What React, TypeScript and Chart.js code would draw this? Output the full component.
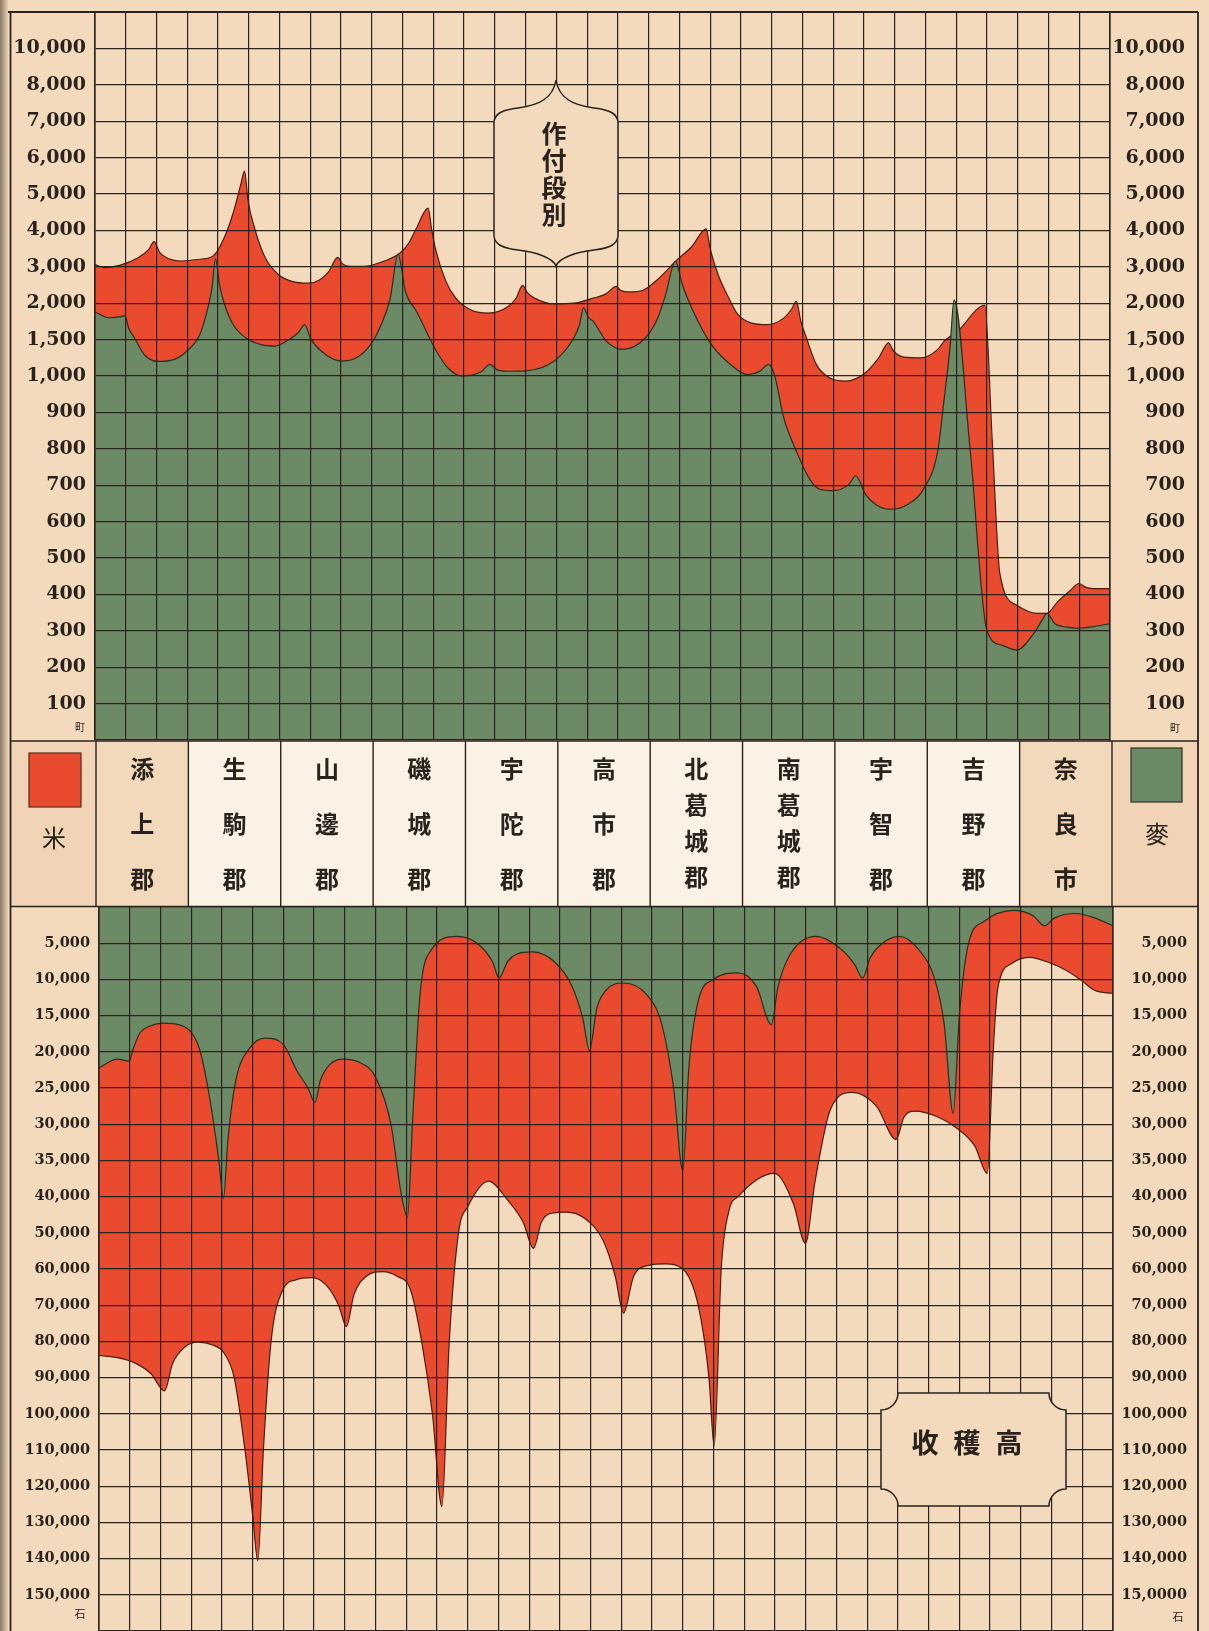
import React, { useEffect, useRef } from "react";
import { Chart, Scale, registerables } from "chart.js";

Chart.register(...registerables);

// ---------------- data ----------------
const districts = ["添上郡", "生駒郡", "山邊郡", "磯城郡", "宇陀郡", "高市郡", "北葛城郡", "南葛城郡", "宇智郡", "吉野郡", "奈良市"];

const areaBreaks = [0, 100, 200, 300, 400, 500, 600, 700, 800, 900, 1000, 1500, 2000, 3000, 4000, 5000, 6000, 7000, 8000, 10000, 12000];
const areaLabels = ["", "100", "200", "300", "400", "500", "600", "700", "800", "900", "1,000", "1,500", "2,000", "3,000", "4,000", "5,000", "6,000", "7,000", "8,000", "10,000", ""];

const harvestBreaks = [0, 5000, 10000, 15000, 20000, 25000, 30000, 35000, 40000, 50000, 60000, 70000, 80000, 90000, 100000, 110000, 120000, 130000, 140000, 150000, 160000];
const harvestLabelsLeft = ["", "5,000", "10,000", "15,000", "20,000", "25,000", "30,000", "35,000", "40,000", "50,000", "60,000", "70,000", "80,000", "90,000", "100,000", "110,000", "120,000", "130,000", "140,000", "150,000", ""];
const harvestLabelsRight = ["", "5,000", "10,000", "15,000", "20,000", "25,000", "30,000", "35,000", "40,000", "50,000", "60,000", "70,000", "80,000", "90,000", "100,000", "110,000", "120,000", "130,000", "140,000", "15,0000", ""];

// x = position along the district axis in grid columns (3 columns per district)
// 作付段別 (町): 米 outline
const riceAreaLine: [number, number][] = [
  [0, 3060], [0.3, 2980], [0.8, 3040], [1.4, 3250], [1.75, 3480], [1.92, 3690], [2.1, 3400], [2.4, 3220], [2.77, 3160],
  [3.3, 3200], [3.84, 3300], [4.2, 3800], [4.5, 4500], [4.75, 5300], [4.86, 5630], [4.98, 4800], [5.22, 3970], [5.54, 3240],
  [5.97, 2780], [6.4, 2600], [6.93, 2550], [7.3, 2640], [7.6, 2870], [7.89, 3260], [8.05, 3080], [8.3, 3010], [8.74, 3010],
  [9.38, 3150], [9.91, 3370], [10.2, 3650], [10.45, 4060], [10.83, 4610], [10.95, 4000], [11.09, 3420], [11.41, 2600],
  [11.73, 2140], [12.26, 1900], [12.79, 1865], [13.43, 1955], [13.7, 2150], [13.9, 2490], [14.05, 2300], [14.29, 2140],
  [14.93, 1990], [15.57, 2000], [16.2, 2140], [16.6, 2250], [16.95, 2460], [17.1, 2350], [17.4, 2310], [17.8, 2350],
  [18.34, 2690], [18.87, 3150], [19.4, 3550], [19.87, 4040], [20.0, 3500], [20.26, 2780], [20.6, 2150], [20.9, 1845],
  [21.32, 1730], [21.85, 1705], [22.39, 1795], [22.65, 1920], [22.8, 2050], [22.95, 1750], [23.13, 1525], [23.45, 1160],
  [23.88, 995], [24.41, 986], [25.05, 1045], [25.48, 1250], [25.8, 1455], [25.95, 1350], [26.3, 1260], [26.86, 1250],
  [27.4, 1365], [27.6, 1475], [28.05, 1615], [28.93, 1970], [29.17, 825], [29.42, 457], [29.97, 370], [30.62, 348],
  [30.95, 348], [31.3, 380], [31.7, 410], [31.99, 430], [32.2, 420], [32.44, 416], [33, 416],
];
// 作付段別 (町): 麥 outline
const barleyAreaLine: [number, number][] = [
  [0, 1880], [0.45, 1800], [0.85, 1815], [0.97, 1830], [1.1, 1650], [1.28, 1525], [1.6, 1295], [2.03, 1200], [2.56, 1225],
  [2.98, 1340], [3.41, 1570], [3.67, 1935], [3.8, 2400], [3.92, 3220], [4.05, 2500], [4.2, 2000], [4.5, 1700], [4.9, 1525],
  [5.4, 1430], [5.86, 1410], [6.3, 1500], [6.6, 1590], [6.82, 1705], [7.0, 1520], [7.36, 1340], [8.0, 1205], [8.5, 1250],
  [8.96, 1430], [9.3, 1700], [9.6, 2140], [9.85, 3350], [10.1, 2300], [10.45, 1890], [11.1, 1340], [11.5, 1100],
  [11.94, 1000], [12.58, 1065], [12.83, 1160], [13.1, 1080], [13.43, 1065], [14.0, 1070], [14.93, 1205], [15.57, 1525],
  [15.75, 1700], [15.88, 1935], [16.05, 1800], [16.2, 1750], [16.63, 1475], [17.16, 1365], [17.9, 1525], [18.3, 1800],
  [18.55, 2230], [18.87, 3150], [19.1, 2500], [19.4, 1935], [20.04, 1430], [20.8, 1110], [21.2, 1020], [21.6, 1060],
  [21.9, 1160], [22.1, 1000], [22.39, 886], [22.8, 794], [23.24, 716], [23.56, 689], [23.99, 685], [24.52, 703],
  [24.73, 726], [25.05, 675], [25.37, 648], [25.84, 634], [26.44, 648], [26.97, 694], [27.4, 794], [27.6, 931],
  [27.8, 1400], [27.93, 2090], [28.45, 800], [29.0, 300], [29.5, 260], [29.97, 247], [30.5, 290], [30.8, 330],
  [30.95, 348], [31.2, 320], [31.6, 310], [31.99, 307], [32.5, 312], [33, 320],
];
// 收穫高 (石): 米 outline
const riceHarvestLine: [number, number][] = [
  [0, 83900], [0.6, 84500], [1.18, 86000], [1.7, 89000], [2.13, 93700], [2.4, 86000], [2.8, 81500], [3.21, 80200],
  [3.7, 81000], [4.05, 83000], [4.4, 90000], [4.75, 110000], [5.0, 128000], [5.17, 140600], [5.35, 110000], [5.6, 80000],
  [5.98, 65800], [6.4, 63000], [6.93, 62400], [7.4, 64500], [7.8, 70000], [8.05, 75900], [8.3, 67000], [8.7, 62000],
  [9.23, 60700], [9.7, 62000], [10.14, 65800], [10.5, 80000], [10.85, 100000], [11.16, 125600], [11.4, 80000],
  [11.7, 50000], [12.0, 42800], [12.68, 37850], [13.3, 41000], [13.8, 47000], [14.14, 54300], [14.4, 47000],
  [14.8, 44500], [15.22, 44300], [15.8, 46000], [16.4, 52000], [16.8, 62000], [17.07, 72200], [17.4, 62000],
  [17.9, 59000], [18.43, 58600], [19.0, 60000], [19.5, 70000], [19.85, 90000], [20.02, 108900], [20.25, 60000],
  [20.5, 44000], [20.8, 40000], [21.98, 36800], [22.6, 42000], [22.99, 52900], [23.3, 38000], [23.8, 28000],
  [24.51, 25600], [25.3, 27500], [25.94, 32100], [26.2, 29000], [26.55, 28200], [27.3, 29000], [27.9, 30500],
  [28.5, 33000], [28.91, 36800], [29.1, 20000], [29.25, 11250], [29.7, 7800], [30.27, 6950], [31.0, 7800],
  [31.5, 8800], [31.96, 10100], [32.4, 11500], [33, 11950],
];
// 收穫高 (石): 麥 outline
const barleyHarvestLine: [number, number][] = [
  [0, 22200], [0.6, 21000], [0.98, 21300], [1.1, 19750], [1.33, 17400], [1.6, 16550], [2.08, 16050], [2.63, 16300],
  [3.02, 17400], [3.28, 19750], [3.5, 23900], [3.7, 29000], [3.9, 35000], [4.05, 40500], [4.2, 32000], [4.45, 24000],
  [4.9, 19500], [5.41, 18100], [6.0, 19000], [6.45, 22700], [6.8, 25000], [7.03, 27000], [7.2, 24000], [7.5, 21800],
  [7.94, 21000], [8.5, 21500], [9.0, 23500], [9.5, 30000], [9.85, 40000], [10.04, 45700], [10.2, 30000], [10.45, 12000],
  [10.8, 6000], [11.66, 4050], [12.3, 5000], [12.8, 7500], [13.02, 9800], [13.3, 7500], [13.6, 6500], [14.1, 6200],
  [14.8, 7500], [15.4, 11000], [15.75, 15500], [15.96, 19850], [16.2, 14000], [16.5, 11500], [17.07, 10500],
  [17.8, 12000], [18.3, 16000], [18.7, 25000], [19.0, 36400], [19.2, 22000], [19.5, 13000], [20.0, 10000],
  [20.8, 9100], [21.4, 11000], [21.88, 16250], [22.1, 11000], [22.5, 6500], [23.33, 4050], [24.2, 6000], [24.6, 8000],
  [24.85, 9800], [25.1, 7000], [25.5, 5000], [26.04, 4050], [26.7, 6000], [27.2, 10000], [27.5, 16000], [27.8, 28500],
  [28.0, 15000], [28.3, 5000], [28.8, 2000], [29.76, 470], [30.4, 1200], [30.77, 2600], [31.1, 1500], [31.79, 900],
  [32.4, 1500], [33, 2600],
];

// ---------------- styling ----------------
const PAPER = "#f3dabd";
const RED = "#ea4a2e";
const GREEN = "#6d8a67";
const INK = "#2a231d";
const NUM_FONT = "'DejaVu Serif', 'Liberation Serif', serif";
const CJK_FONT = "'Noto Sans CJK JP', 'Noto Sans CJK TC', sans-serif";

function makeBreakScale(id: string, breaks: number[]) {
  const last = breaks.length - 1;
  const toPos = (value: number) => {
    if (value <= breaks[0]) return 0;
    for (let i = 1; i < breaks.length; i++) {
      if (value <= breaks[i]) return i - 1 + (value - breaks[i - 1]) / (breaks[i] - breaks[i - 1]);
    }
    return last;
  };
  return class BreakScale extends (Scale as any) {
    static id = id;
    static defaults = {};
    determineDataLimits() {
      this.min = breaks[0];
      this.max = breaks[last];
    }
    buildTicks() {
      return breaks.map((value) => ({ value }));
    }
    getLabelForValue(value: number) {
      return String(value);
    }
    getPixelForValue(value: number) {
      return this.getPixelForDecimal(toPos(value) / last);
    }
    getValueForPixel(pixel: number) {
      const p = this.getDecimalForPixel(pixel) * last;
      const i = Math.max(0, Math.min(last - 1, Math.floor(p)));
      return breaks[i] + (p - i) * (breaks[i + 1] - breaks[i]);
    }
  };
}

const AreaScale = makeBreakScale("areaBreaks", areaBreaks);
const HarvestScale = makeBreakScale("harvestBreaks", harvestBreaks);
Chart.register(AreaScale as any, HarvestScale as any);

const toPts = (arr: [number, number][]) => arr.map(([x, y]) => ({ x, y }));

function panelConfig(opts: {
  rice: [number, number][];
  barley: [number, number][];
  scaleType: string;
  labelsL: string[];
  labelsR: string[];
  reverse: boolean;
  fontSize: number;
  padding: { left: number; right: number; top: number; bottom: number };
  wL: number;
  wR: number;
}): any {
  const grid = { color: INK, lineWidth: 1.2, z: 1, drawTicks: false };
  const font = { family: NUM_FONT, size: opts.fontSize, weight: "bold" };
  const fitY = (w: number) => (s: any) => {
    s.width = w;
    s.paddingTop = 0;
    s.paddingBottom = 0;
  };
  return {
    type: "line",
    data: {
      datasets: [
        {
          label: "麥",
          data: toPts(opts.barley),
          order: 1,
          fill: "origin",
          backgroundColor: GREEN,
          borderColor: "#27301f",
          borderWidth: 1.2,
          pointRadius: 0,
          cubicInterpolationMode: "monotone",
          yAxisID: "y",
        },
        {
          label: "米",
          data: toPts(opts.rice),
          order: 2,
          fill: "origin",
          backgroundColor: RED,
          borderColor: "#4a1d10",
          borderWidth: 1.2,
          pointRadius: 0,
          cubicInterpolationMode: "monotone",
          yAxisID: "y",
        },
      ],
    },
    options: {
      responsive: false,
      animation: false,
      events: [],
      layout: { padding: opts.padding },
      plugins: { legend: { display: false }, tooltip: { enabled: false } },
      scales: {
        x: {
          type: "linear",
          min: 0,
          max: 33,
          ticks: { stepSize: 1, display: false, autoSkip: false },
          grid,
          border: { display: false },
          afterFit: (s: any) => {
            s.height = 0;
            s.paddingLeft = 0;
            s.paddingRight = 0;
          },
        },
        y: {
          type: opts.scaleType,
          position: "left",
          reverse: opts.reverse,
          ticks: {
            autoSkip: false,
            padding: 9,
            color: INK,
            font,
            callback: (_v: any, i: number) => opts.labelsL[i],
          },
          grid,
          border: { display: true, color: INK, width: 1.6, z: 1 },
          afterFit: fitY(opts.wL),
        },
        yR: {
          type: opts.scaleType,
          position: "right",
          reverse: opts.reverse,
          ticks: {
            autoSkip: false,
            padding: 0,
            crossAlign: "far",
            color: INK,
            font,
            callback: (_v: any, i: number) => opts.labelsR[i],
          },
          grid: { display: false, drawTicks: false },
          border: { display: true, color: INK, width: 1.6, z: 1 },
          afterFit: fitY(opts.wR),
        },
      },
    },
  };
}

const BAND_TOP = 741;
const BAND_BOTTOM = 907;
const BAND_X0 = 96;
const BAND_W = (1112 - 96) / 11;

export default function App() {
  const topRef = useRef<HTMLCanvasElement | null>(null);
  const bottomRef = useRef<HTMLCanvasElement | null>(null);

  useEffect(() => {
    document.body.style.margin = "0";
    const top = new Chart(
      topRef.current as HTMLCanvasElement,
      panelConfig({
        rice: riceAreaLine,
        barley: barleyAreaLine,
        scaleType: "areaBreaks",
        labelsL: areaLabels,
        labelsR: areaLabels,
        reverse: false,
        fontSize: 19,
        padding: { left: 10, right: 24, top: 12, bottom: 2 },
        wL: 85,
        wR: 75,
      })
    );
    const bottom = new Chart(
      bottomRef.current as HTMLCanvasElement,
      panelConfig({
        rice: riceHarvestLine,
        barley: barleyHarvestLine,
        scaleType: "harvestBreaks",
        labelsL: harvestLabelsLeft,
        labelsR: harvestLabelsRight,
        reverse: true,
        fontSize: 14.5,
        padding: { left: 14, right: 22, top: 2, bottom: 0 },
        wL: 85,
        wR: 74,
      })
    );
    return () => {
      top.destroy();
      bottom.destroy();
    };
  }, []);

  const cx = 556;
  const shield =
    `M ${cx} 80 C ${cx - 3} 100 ${cx - 20} 106 ${cx - 38} 108 C ${cx - 55} 110 ${cx - 61} 114 ${cx - 62} 122 ` +
    `L ${cx - 62} 236 C ${cx - 61} 244 ${cx - 55} 248 ${cx - 38} 250 C ${cx - 20} 252 ${cx - 3} 258 ${cx} 266 ` +
    `C ${cx + 3} 258 ${cx + 20} 252 ${cx + 38} 250 C ${cx + 55} 248 ${cx + 61} 244 ${cx + 62} 236 ` +
    `L ${cx + 62} 122 C ${cx + 61} 114 ${cx + 55} 110 ${cx + 38} 108 C ${cx + 20} 106 ${cx + 3} 100 ${cx} 80 Z`;
  const bx1 = 881, bx2 = 1066, by1 = 1393, by2 = 1506, r = 17;
  const plaque =
    `M ${bx1 + r} ${by1} L ${bx2 - r} ${by1} A ${r} ${r} 0 0 0 ${bx2} ${by1 + r} L ${bx2} ${by2 - r} ` +
    `A ${r} ${r} 0 0 0 ${bx2 - r} ${by2} L ${bx1 + r} ${by2} A ${r} ${r} 0 0 0 ${bx1} ${by2 - r} ` +
    `L ${bx1} ${by1 + r} A ${r} ${r} 0 0 0 ${bx1 + r} ${by1} Z`;

  return (
    <div style={{ position: "absolute", left: 0, top: 0, width: 1209, height: 1631, background: PAPER, overflow: "hidden" }}>
      <canvas ref={topRef} width={1209} height={742} style={{ position: "absolute", left: 0, top: 0 }} />
      <canvas ref={bottomRef} width={1209} height={726} style={{ position: "absolute", left: 0, top: 905 }} />
      <svg width={1209} height={1631} style={{ position: "absolute", left: 0, top: 0 }}>
        <defs>
          <linearGradient id="bind" x1="0" x2="1" y1="0" y2="0">
            <stop offset="0" stopColor="#8c7a66" />
            <stop offset="1" stopColor="#e8d0b5" />
          </linearGradient>
        </defs>
        <rect x={0} y={0} width={8} height={1631} fill="url(#bind)" />
        {/* middle band */}
        <rect x={10} y={BAND_TOP} width={BAND_X0 - 10} height={BAND_BOTTOM - BAND_TOP} fill="#f1d4b5" />
        <rect x={1112} y={BAND_TOP} width={86} height={BAND_BOTTOM - BAND_TOP} fill="#f1d4b5" />
        {districts.map((d, i) => (
          <rect
            key={"c" + d}
            x={BAND_X0 + i * BAND_W}
            y={BAND_TOP}
            width={BAND_W}
            height={BAND_BOTTOM - BAND_TOP}
            fill={i === 0 || i === districts.length - 1 ? "#f2d9bc" : "#fbf2e5"}
          />
        ))}
        {districts.map((d, i) => (
          <line
            key={"s" + d}
            x1={BAND_X0 + i * BAND_W}
            x2={BAND_X0 + i * BAND_W}
            y1={BAND_TOP}
            y2={BAND_BOTTOM}
            stroke={INK}
            strokeWidth={1.4}
          />
        ))}
        <line x1={1112} x2={1112} y1={BAND_TOP} y2={BAND_BOTTOM} stroke={INK} strokeWidth={1.4} />
        <line x1={10} x2={1198} y1={BAND_TOP} y2={BAND_TOP} stroke={INK} strokeWidth={1.6} />
        <line x1={10} x2={1198} y1={BAND_BOTTOM - 0.5} y2={BAND_BOTTOM - 0.5} stroke={INK} strokeWidth={1.6} />
        {districts.map((d, i) => {
          const chars = Array.from(d);
          const ys = chars.length === 3 ? [767, 822, 877] : [767, 803, 839, 875];
          return chars.map((ch, j) => (
            <text
              key={d + j}
              x={BAND_X0 + (i + 0.5) * BAND_W}
              y={ys[j]}
              textAnchor="middle"
              dominantBaseline="central"
              fontFamily={CJK_FONT}
              fontWeight={700}
              fontSize={24}
              fill={INK}
            >
              {ch}
            </text>
          ));
        })}
        {/* legend */}
        <rect x={29} y={753} width={52} height={54} fill={RED} stroke="#5a2a1a" strokeWidth={1.2} />
        <text x={54} y={836} textAnchor="middle" dominantBaseline="central" fontFamily={CJK_FONT} fontSize={24} fill={INK}>
          米
        </text>
        <rect x={1131} y={748} width={51} height={54} fill={GREEN} stroke="#2a2f25" strokeWidth={1.2} />
        <text x={1157} y={832} textAnchor="middle" dominantBaseline="central" fontFamily={CJK_FONT} fontSize={24} fill={INK}>
          麥
        </text>
        {/* frame */}
        <line x1={10.5} x2={10.5} y1={12} y2={1631} stroke={INK} strokeWidth={1.8} />
        <line x1={1198} x2={1198} y1={12} y2={1631} stroke={INK} strokeWidth={1.8} />
        <line x1={8} x2={1198} y1={12} y2={12} stroke={INK} strokeWidth={1.8} />
        {/* units */}
        <text x={80} y={726} textAnchor="middle" dominantBaseline="central" fontFamily={CJK_FONT} fontSize={10} fill={INK}>町</text>
        <text x={1175} y={727} textAnchor="middle" dominantBaseline="central" fontFamily={CJK_FONT} fontSize={10} fill={INK}>町</text>
        <text x={80} y={1613} textAnchor="middle" dominantBaseline="central" fontFamily={CJK_FONT} fontSize={11} fill={INK}>石</text>
        <text x={1178} y={1616} textAnchor="middle" dominantBaseline="central" fontFamily={CJK_FONT} fontSize={11} fill={INK}>石</text>
        {/* title shield */}
        <path d={shield} fill={PAPER} stroke={INK} strokeWidth={1.5} />
        {Array.from("作付段別").map((ch, j) => (
          <text
            key={"t" + j}
            x={cx - 2}
            y={132 + j * 27}
            textAnchor="middle"
            dominantBaseline="central"
            fontFamily={CJK_FONT}
            fontWeight={700}
            fontSize={25}
            fill={INK}
          >
            {ch}
          </text>
        ))}
        {/* harvest plaque */}
        <path d={plaque} fill={PAPER} stroke={INK} strokeWidth={1.5} />
        {Array.from("收穫高").map((ch, j) => (
          <text
            key={"h" + j}
            x={925 + j * 42}
            y={1441}
            textAnchor="middle"
            dominantBaseline="central"
            fontFamily={CJK_FONT}
            fontWeight={700}
            fontSize={27}
            fill={INK}
          >
            {ch}
          </text>
        ))}
      </svg>
    </div>
  );
}
